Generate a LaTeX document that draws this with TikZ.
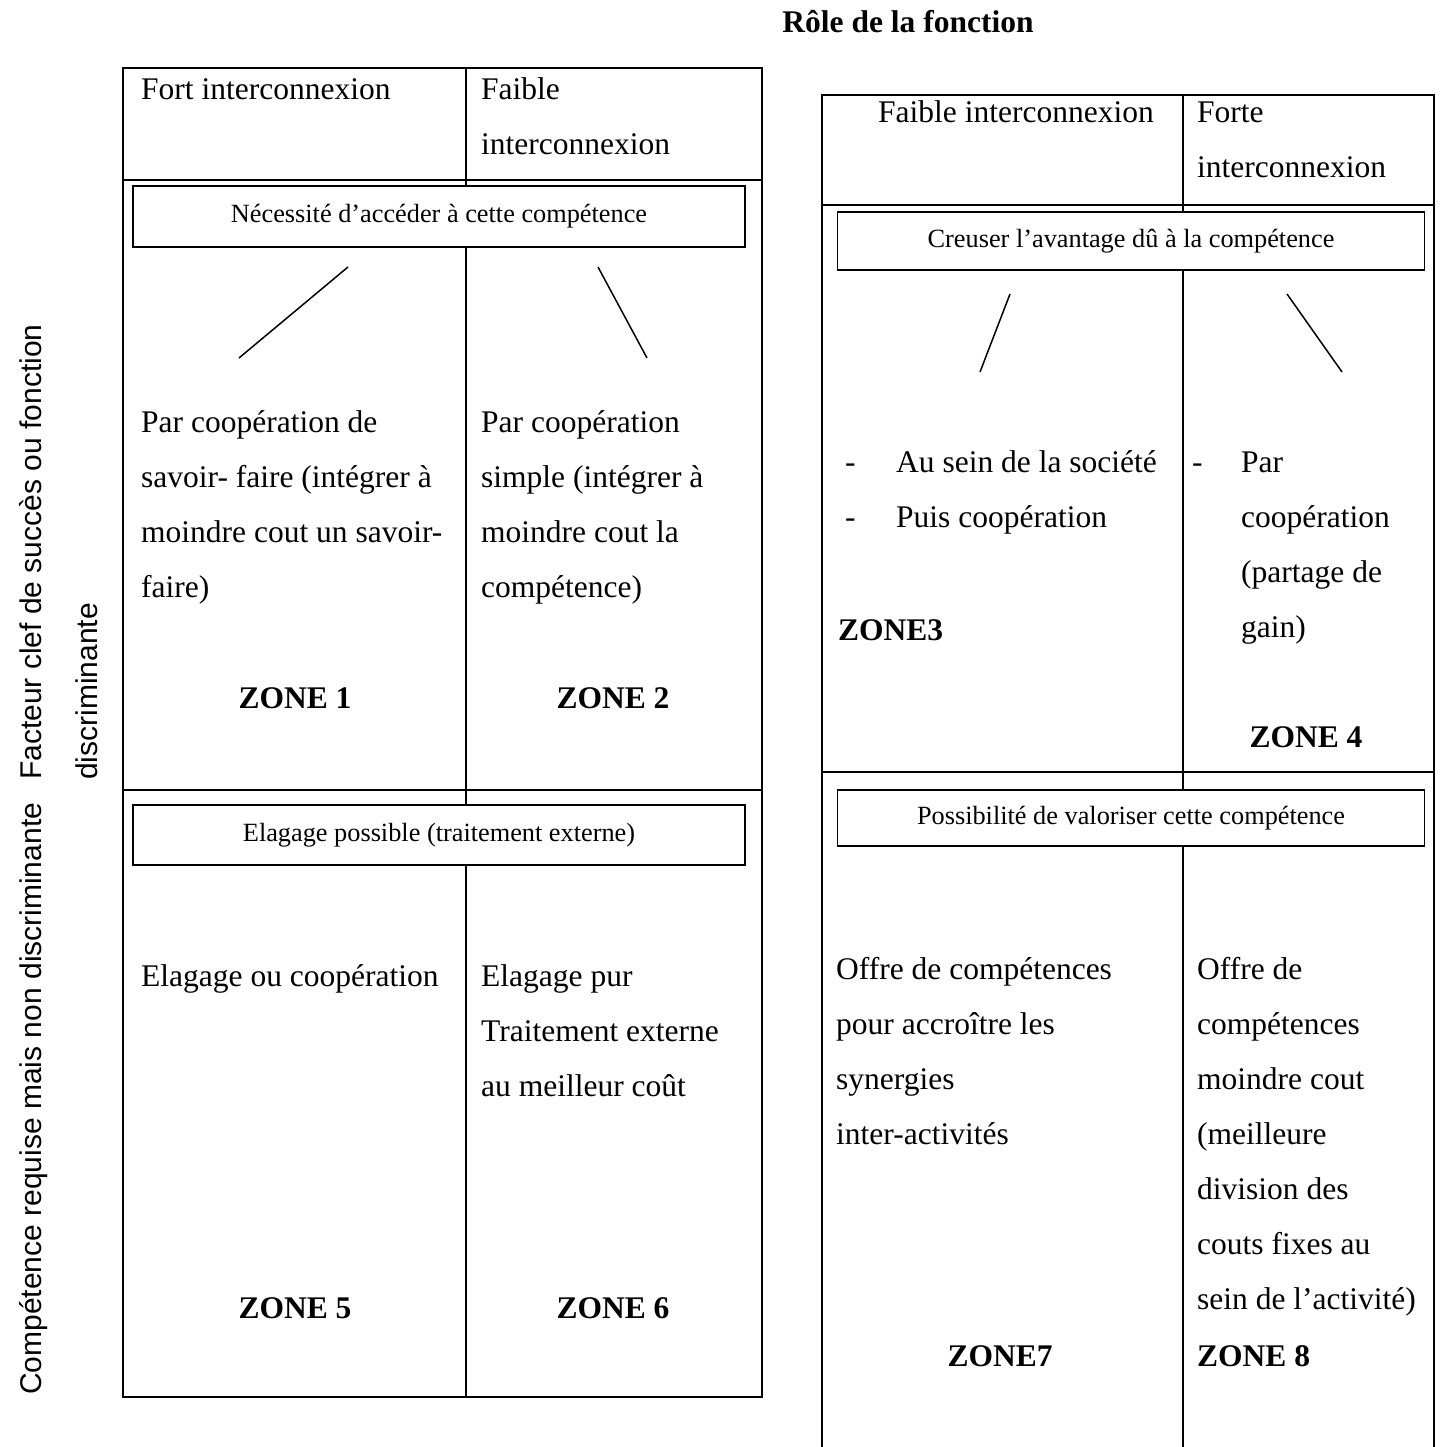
\documentclass[tikz,border=0pt]{standalone}
\usepackage{fontspec}
\setmainfont{Liberation Serif}
\newfontfamily\sidefont{Liberation Sans}
\begin{document}
\begin{tikzpicture}[x=1pt,y=-1pt,
  rule/.style={line width=2.6pt},
  stroke/.style={line width=1.5pt},
  txt/.style={inner sep=0pt, anchor=base west, font=\fontsize{31.5}{55}\selectfont},
  zonelbl/.style={inner sep=0pt, anchor=base, font=\fontsize{31.5}{55}\selectfont\bfseries},
  banner/.style={draw, fill=white, line width=1.8pt, inner sep=0pt,
    font=\fontsize{26.3}{30}\selectfont},
  side/.style={inner sep=0pt, anchor=base west, rotate=90, font=\sidefont\fontsize{30}{55}\selectfont}]
\useasboundingbox (0,0) rectangle (1440,1447);

% ---- title ----
\node[inner sep=0pt, anchor=base, font=\fontsize{31.5}{40}\selectfont\bfseries] (title) at (908,33) {Rôle de la fonction};

% ---- side labels ----
\node[side] (sideA) at (41,780) {Facteur clef de succès ou fonction};
\node[side] (sideB) at (97,780) {discriminante};
\node[side] (sideC) at (41,1395) {Compétence requise mais non discriminante};

% ---- left table frame ----
\draw[rule] (123,68) rectangle (762,1397);
\draw[rule] (123,180) -- (762,180);
\draw[rule] (123,790) -- (762,790);
\draw[rule] (466,68) -- (466,1397);

% ---- right table frame (runs off the bottom) ----
\draw[rule] (822,1447) -- (822,95) -- (1434,95) -- (1434,1447);
\draw[rule] (822,205) -- (1434,205);
\draw[rule] (822,772) -- (1434,772);
\draw[rule] (1183,95) -- (1183,1447);

% ---- banners ----
\node[banner, minimum width=612pt, minimum height=61pt] (bnA) at (439,216.5) {Nécessité d’accéder à cette compétence};
\node[banner, minimum width=612pt, minimum height=60pt] (bnB) at (439,835) {Elagage possible (traitement externe)};
\node[banner, minimum width=587pt, minimum height=58pt] (bnC) at (1131,241) {Creuser l’avantage dû à la compétence};
\node[banner, minimum width=587pt, minimum height=56pt] (bnD) at (1131,818) {Possibilité de valoriser cette compétence};

% ---- diagonal strokes ----
\coordinate (dA1) at (348,267); \coordinate (dA2) at (239,358);
\coordinate (dB1) at (598,267); \coordinate (dB2) at (647,358);
\coordinate (dC1) at (1010,294); \coordinate (dC2) at (980,372);
\coordinate (dD1) at (1287,294); \coordinate (dD2) at (1342,372);
\draw[stroke] (dA1) -- (dA2);
\draw[stroke] (dB1) -- (dB2);
\draw[stroke] (dC1) -- (dC2);
\draw[stroke] (dD1) -- (dD2);

% ---- left table headers ----
\node[txt] (hA) at (141,100) {Fort interconnexion};
\node[txt] (hB1) at (481,100) {Faible};
\node[txt] (hB2) at (481,155) {interconnexion};

% ---- right table headers ----
\node[txt] (hC) at (878,123) {Faible interconnexion};
\node[txt] (hD1) at (1197,123) {Forte};
\node[txt] (hD2) at (1197,178) {interconnexion};

% ---- zone 1 ----
\foreach \t [count=\i from 0] in {Par coopération de, savoir- faire (intégrer à, moindre cout un savoir-, faire)}
  \node[txt] (zA-\i) at (141,432+55*\i) {\t};
\node[zonelbl] (zoneA) at (295,708) {ZONE 1};

% ---- zone 2 ----
\foreach \t [count=\i from 0] in {Par coopération, simple (intégrer à, moindre cout la, compétence)}
  \node[txt] (zB-\i) at (481,432+55*\i) {\t};
\node[zonelbl] (zoneB) at (613,708) {ZONE 2};

% ---- zone 3 ----
\node[txt] (zC-d0) at (845,472) {-};
\node[txt] (zC-0) at (896,472) {Au sein de la société};
\node[txt] (zC-d1) at (845,527) {-};
\node[txt] (zC-1) at (896,527) {Puis coopération};
\node[zonelbl, anchor=base west] (zoneC) at (838,640) {ZONE3};

% ---- zone 4 ----
\node[txt] (zD-d0) at (1192,472) {-};
\foreach \t [count=\i from 0] in {{Par}, {coopération}, {(partage de}, {gain)}}
  \node[txt] (zD-\i) at (1241,472+55*\i) {\t};
\node[zonelbl] (zoneD) at (1306,747) {ZONE 4};

% ---- zone 5 ----
\node[txt] (zE-0) at (141,986) {Elagage ou coopération};
\node[zonelbl] (zoneE) at (295,1318) {ZONE 5};

% ---- zone 6 ----
\foreach \t [count=\i from 0] in {Elagage pur, Traitement externe, au meilleur coût}
  \node[txt] (zF-\i) at (481,986+55*\i) {\t};
\node[zonelbl] (zoneF) at (613,1318) {ZONE 6};

% ---- zone 7 ----
\foreach \t [count=\i from 0] in {Offre de compétences, pour accroître les, synergies, inter-activités}
  \node[txt] (zG-\i) at (836,979+55*\i) {\t};
\node[zonelbl] (zoneG) at (1000,1366) {ZONE7};

% ---- zone 8 ----
\foreach \t [count=\i from 0] in {{Offre de}, {compétences}, {moindre cout}, {(meilleure}, {division des}, {couts fixes au}, {sein de l’activité)}}
  \node[txt] (zH-\i) at (1197,979+55*\i) {\t};
\node[zonelbl, anchor=base west] (zoneH) at (1197,1366) {ZONE 8};
\end{tikzpicture}
\end{document}
